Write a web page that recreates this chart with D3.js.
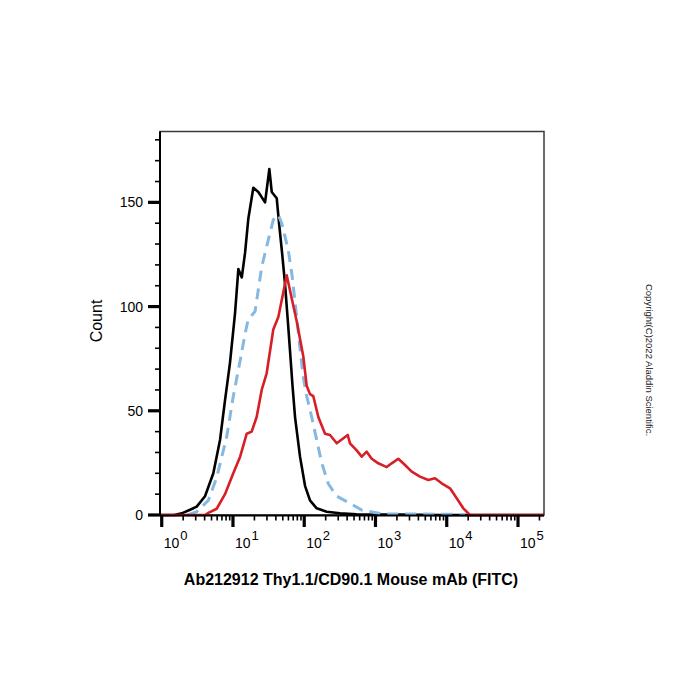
<!DOCTYPE html>
<html>
<head>
<meta charset="utf-8">
<script src="https://cdn.jsdelivr.net/npm/d3@7"></script>
<style>
  html, body { margin: 0; padding: 0; background: #fff; }
  svg { display: block; font-family: "Liberation Sans", Arial, sans-serif; }
</style>
</head>
<body>
<svg id="chart" width="700" height="700"></svg>
<script>
// ---- Data (fluorescence intensity, count) ----
const blackX = [0.95, 1.5, 1.91, 2.5, 3.1, 4.05, 5.3, 6.58, 7.73, 9.08, 10.7, 11.9, 13.3, 14.8, 16.4, 19.3, 22.7, 28.2, 32.4, 35.0, 41.1, 44.3, 48.8, 53.7, 59.2, 63.1, 68.5, 74.3, 87.3, 102.6, 120.5, 149.6, 206.7, 317.7, 544.5, 922, 2208, 8040, 20000, 231000];
const blackY = [0, 0, 0.8, 2.5, 4, 9, 20, 36, 55, 73, 97, 118, 114, 126, 142, 157, 155, 150, 166, 155, 152, 140, 126, 111, 92, 79, 62, 47, 28, 14, 7, 3.2, 1.6, 0.8, 0.3, 0.2, 0.2, 0, 0, 0];

const blueX = [2.34, 3.1, 3.68, 4.51, 5.91, 8.17, 10.1, 12.6, 14.8, 16.4, 20.4, 25.3, 31.3, 36.8, 43.3, 48.3, 59.8, 67.4, 78.4, 87.3, 97.1, 108.3, 127.4, 149.6, 175.9, 217.8, 285.8, 438.5, 641, 1288, 4217, 13060, 18030];
const blueY = [0, 1.6, 4, 7, 18, 37.6, 57, 74, 87, 94, 97.6, 119, 132, 141.6, 144, 140, 127, 115, 95, 80, 66, 57, 47, 36, 25, 15, 9, 5.6, 2.4, 0.5, 0.5, 0.3, 0];

const redX = [0.95, 4.05, 4.51, 5.91, 7.73, 10.1, 12.6, 15.6, 18.3, 21.5, 25.3, 29.7, 36.8, 43.3, 48.3, 56.8, 66.7, 78.4, 97.1, 108.3, 120.5, 134.1, 157.7, 195.8, 230, 285.8, 408.3, 438.5, 544.5, 641, 753, 885, 1096, 1437, 1690, 2090, 2596, 3223, 4217, 5510, 6840, 8490, 11120, 13800, 17070, 21190, 231000];
const redY = [0, 0, 1, 3, 10, 20, 28, 39, 40, 47, 60, 68, 89, 95, 103, 115, 104, 93, 76, 62, 58, 57, 47, 39, 38.4, 34.4, 38.4, 34.4, 31, 28, 30.4, 27, 24.8, 23, 24.8, 27, 24, 20.8, 18.4, 16.8, 17.6, 15.2, 12.8, 8, 3.2, 0, 0];

const xMajorExps = [0, 1, 2, 3, 4, 5];
const yMajorTicks = [0, 50, 100, 150];
const xDomain = [0.946, 231700];
const yDomain = [0, 184];
const xTitle = "Ab212912 Thy1.1/CD90.1 Mouse mAb (FITC)";
const yTitle = "Count";
const copyright = "Copyright(C)2022 Aladdin Scientific.";

// ---- Layout ----
const L = 160, R = 544, T = 131.5, B = 515;
const svg = d3.select("#chart");
const x = d3.scaleLog().domain(xDomain).range([L, R]);
const y = d3.scaleLinear().domain(yDomain).range([B, T]);

// frame
svg.append("rect").attr("x", L).attr("y", T).attr("width", R - L).attr("height", B - T)
  .attr("fill", "none").attr("stroke", "#3a3a3a").attr("stroke-width", 1.5);

// curves
const line = d3.line().x(d => x(d[0])).y(d => y(d[1])).curve(d3.curveLinear);
const series = [
  { xs: blackX, ys: blackY, color: "#000000", width: 2.6, dash: null },
  { xs: blueX, ys: blueY, color: "#86b8e0", width: 3, dash: "11,7" },
  { xs: redX, ys: redY, color: "#d61f26", width: 2.6, dash: null }
];
series.forEach(s => {
  const pts = s.xs.map((v, i) => [v, s.ys[i]]);
  svg.append("path").datum(pts).attr("d", line)
    .attr("fill", "none").attr("stroke", s.color).attr("stroke-width", s.width)
    .attr("stroke-linejoin", "round")
    .attr("stroke-dasharray", s.dash);
});

// x axis
const xAxisG = svg.append("g");
xAxisG.append("line").attr("x1", L).attr("x2", R).attr("y1", B + 0.5).attr("y2", B + 0.5)
  .attr("stroke", "#000").attr("stroke-width", 2);
const xMinor = [];
for (let k = 0; k <= 5; k++) for (let d = 2; d <= 9; d++) {
  const v = d * Math.pow(10, k);
  if (v <= xDomain[1]) xMinor.push(v);
}
xAxisG.selectAll(".xminor").data(xMinor).enter().append("line")
  .attr("x1", d => x(d)).attr("x2", d => x(d)).attr("y1", B).attr("y2", B + 5.5)
  .attr("stroke", "#000").attr("stroke-width", 1.6);
xAxisG.selectAll(".xmajor").data(xMajorExps).enter().append("line")
  .attr("x1", d => x(Math.pow(10, d))).attr("x2", d => x(Math.pow(10, d)))
  .attr("y1", B).attr("y2", B + 12)
  .attr("stroke", "#000").attr("stroke-width", 3.2);
const xl = xAxisG.selectAll(".xlab").data(xMajorExps).enter().append("text")
  .attr("x", d => x(Math.pow(10, d)) + 2).attr("y", 548)
  .attr("font-size", 14).attr("fill", "#000");
xl.append("tspan").text("10");
xl.append("tspan").attr("dy", -8).attr("dx", 1).attr("font-size", 13).text(d => d);

// y axis
const yAxisG = svg.append("g");
yAxisG.append("line").attr("x1", L).attr("x2", L).attr("y1", T).attr("y2", B + 1)
  .attr("stroke", "#000").attr("stroke-width", 2);
const yMinor = d3.range(0, 190, 10).filter(v => yMajorTicks.indexOf(v) < 0);
yAxisG.selectAll(".yminor").data(yMinor).enter().append("line")
  .attr("x1", L - 5).attr("x2", L).attr("y1", d => y(d)).attr("y2", d => y(d))
  .attr("stroke", "#000").attr("stroke-width", 1.6);
yAxisG.selectAll(".ymajor").data(yMajorTicks).enter().append("line")
  .attr("x1", L - 12).attr("x2", L).attr("y1", d => y(d)).attr("y2", d => y(d))
  .attr("stroke", "#000").attr("stroke-width", 3.2);
yAxisG.selectAll(".ylab").data(yMajorTicks).enter().append("text")
  .attr("x", 143).attr("y", d => y(d) + 5).attr("text-anchor", "end")
  .attr("font-size", 14).attr("fill", "#000").text(d => d);

// titles
svg.append("text").attr("transform", "translate(102,321) rotate(-90)")
  .attr("text-anchor", "middle").attr("font-size", 16).attr("fill", "#000").text(yTitle);
svg.append("text").attr("x", 351).attr("y", 585).attr("text-anchor", "middle")
  .attr("font-size", 16).attr("font-weight", "bold").attr("fill", "#000").text(xTitle);
svg.append("text").attr("transform", "translate(646,360) rotate(90)")
  .attr("text-anchor", "middle").attr("font-size", 9.5).attr("fill", "#222").text(copyright);
</script>
</body>
</html>
